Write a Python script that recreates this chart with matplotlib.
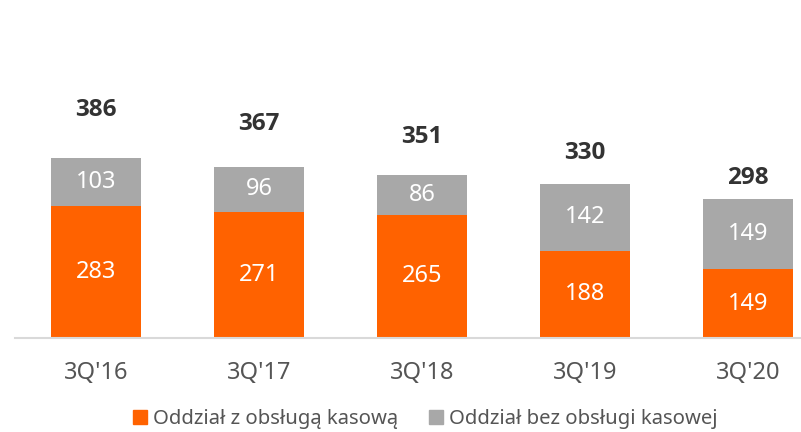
import numpy as np
import matplotlib.pyplot as plt
from matplotlib.patches import Patch

plt.rcParams['font.family'] = ['Noto Sans', 'DejaVu Sans']

quarters = ["3Q'16", "3Q'17", "3Q'18", "3Q'19", "3Q'20"]
z_kasa = [283, 271, 265, 188, 149]      # Oddział z obsługą kasową
bez_kasy = [103, 96, 86, 142, 149]      # Oddział bez obsługi kasowej
totals = [386, 367, 351, 330, 298]

ORANGE = '#FF6200'
GREY = '#A8A8A8'

fig = plt.figure(figsize=(8.01, 4.32), dpi=100)
ax = fig.add_axes([14.5 / 801, 1 - 338.3 / 432, 786.5 / 801, 338.3 / 432])

x = np.arange(len(quarters))
w = 0.558
b1 = ax.bar(x, z_kasa, w, color=ORANGE, zorder=2)
b2 = ax.bar(x, bez_kasy, w, bottom=z_kasa, color=GREY, zorder=2)

for i in range(len(x)):
    ax.text(x[i], z_kasa[i] / 2, str(z_kasa[i]), ha='center', va='center',
            color='white', fontsize=17)
    ax.text(x[i], z_kasa[i] + bez_kasy[i] / 2, str(bez_kasy[i]), ha='center',
            va='center', color='white', fontsize=17)

ax.set_xlim(-0.5, -0.5 + 786.5 / 163)
ax.set_ylim(0, 725)
ax.set_yticks([])
ax.set_xticks(x)
ax.set_xticklabels(quarters, fontsize=17, color='#555555')
ax.tick_params(axis='x', length=0, pad=16)
for s in ['top', 'right', 'left']:
    ax.spines[s].set_visible(False)
ax.spines['bottom'].set_color('#D9D9D9')
ax.spines['bottom'].set_linewidth(1.5)

# totals drawn on a secondary scale, like an invisible line series
ax2 = ax.twinx()
ax2.set_ylim(92, 527)
ax2.set_yticks([])
for s in ['top', 'right', 'left', 'bottom']:
    ax2.spines[s].set_visible(False)
for i in range(len(x)):
    ax2.text(x[i], totals[i], str(totals[i]), ha='center', va='center',
             fontsize=17.5, fontweight='bold', color='#333333',
             family=['Open Sans', 'DejaVu Sans'])

handles = [Patch(color=ORANGE), Patch(color=GREY)]
fig.legend(handles, ['Oddział z obsługą kasową', 'Oddział bez obsługi kasowej'],
           loc='center', bbox_to_anchor=(425.5 / 801, 1 - 419 / 432),
           ncol=2, frameon=False, fontsize=14.6, handlelength=0.7,
           handleheight=0.7, handletextpad=0.3, columnspacing=1.5,
           labelcolor='#555555')

fig.savefig('out.png', dpi=100)
